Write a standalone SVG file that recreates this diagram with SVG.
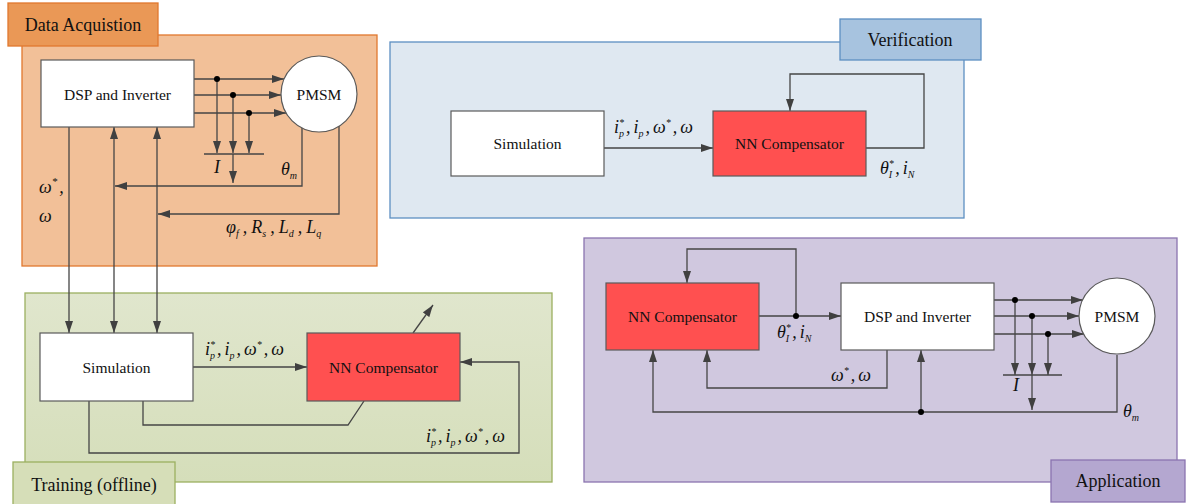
<svg xmlns="http://www.w3.org/2000/svg" width="1187" height="504" viewBox="0 0 1187 504">
<defs>
<marker id="ah" viewBox="0 0 12 8" refX="12" refY="4" markerWidth="12" markerHeight="8" orient="auto-start-reverse" markerUnits="userSpaceOnUse"><path d="M0,0 L12,4 L0,8 z" fill="#404040"/></marker>
<linearGradient id="gTrain" x1="0" y1="0" x2="0" y2="1"><stop offset="0" stop-color="#e0e6cd"/><stop offset="1" stop-color="#d5deba"/></linearGradient>
</defs>
<style>
.node{stroke:#5a5a5a;stroke-width:1.2}
.white{fill:#ffffff}
.red{fill:#ff5050}
.t{font-size:15.5px;fill:#111;text-anchor:middle;dominant-baseline:central}
.tab{font-size:18px;fill:#111;text-anchor:middle;dominant-baseline:central}
.m{font-size:18px;font-style:italic;fill:#111}
.c{fill:none;stroke:#454545;stroke-width:1.3}
.a{marker-end:url(#ah)}
.b{marker-start:url(#ah);marker-end:url(#ah)}
.dot{fill:#000}
</style>

<g id="region-data-acquisition">
<rect x="22" y="35" width="355" height="231" fill="#f2c098" stroke="#e0782e" stroke-width="1.3"/>
<rect x="8" y="3" width="150" height="43" fill="#ea9856" stroke="#e0782e" stroke-width="1.3"/>
<text class="tab" font-family="Liberation Serif, serif" x="83" y="25">Data Acquistion</text>
</g>
<g id="region-verification">
<rect x="390" y="42" width="574" height="176" fill="#dfe8f1" stroke="#5c8fc2" stroke-width="1.3"/>
<rect x="840" y="19" width="141" height="41" fill="#a7c3df" stroke="#5c8fc2" stroke-width="1.3"/>
<text class="tab" font-family="Liberation Serif, serif" x="910" y="40">Verification</text>
</g>
<g id="region-training">
<rect x="25" y="293" width="527" height="189" fill="url(#gTrain)" stroke="#9bb060" stroke-width="1.3"/>
<rect x="13" y="462" width="162" height="45" fill="#d6deb8" stroke="#9bb060" stroke-width="1.3"/>
<text class="tab" font-family="Liberation Serif, serif" x="94" y="485">Training (offline)</text>
</g>
<g id="region-application">
<rect x="584" y="238" width="593" height="244" fill="#d0c8df" stroke="#8a74b0" stroke-width="1.3"/>
<rect x="1051" y="460" width="134" height="42" fill="#b4a7d0" stroke="#8a74b0" stroke-width="1.3"/>
<text class="tab" font-family="Liberation Serif, serif" x="1118" y="481">Application</text>
</g>

<g id="connectors">
<path class="c a" d="M194,79 H284"/>
<path class="c a" d="M194,95 H281"/>
<path class="c a" d="M194,113 H286"/>
<path class="c a" d="M217,79 V153"/>
<path class="c a" d="M233,95 V153"/>
<path class="c a" d="M249,113 V153"/>
<path class="c" d="M204,154 H264"/>
<path class="c a" d="M233,154 V183"/>
<path class="c a" d="M302,128 V186 H115"/>
<path class="c a" d="M339,126 V214 H158"/>
<path class="c a" d="M69,127 V333"/>
<path class="c b" d="M114,127 V333"/>
<path class="c b" d="M157,127 V333"/>
<circle class="dot" cx="217" cy="79" r="3"/>
<circle class="dot" cx="233" cy="95" r="3"/>
<circle class="dot" cx="249" cy="113" r="3"/>
<path class="c a" d="M193,367 H307"/>
<path class="c a" d="M413,333 L433,305"/>
<path class="c" d="M143,401 V425 H348 L364,401"/>
<path class="c a" d="M89,401 V453 H519 V362 H460"/>
<path class="c a" d="M604,148 H713"/>
<path class="c a" d="M866,148 H924 V74 H790 V111"/>
<path class="c a" d="M759,316 H841"/>
<path class="c a" d="M796,316 V249 H687 V283"/>
<circle class="dot" cx="796" cy="316" r="3"/>
<path class="c a" d="M887,350 V388 H707 V350"/>
<path class="c a" d="M1117,355 V412 H653 V350"/>
<path class="c a" d="M921,412 V350"/>
<circle class="dot" cx="921" cy="412" r="3"/>
<path class="c a" d="M994,300 H1083"/>
<path class="c a" d="M994,316 H1079"/>
<path class="c a" d="M994,334 H1084"/>
<path class="c a" d="M1015,300 V375"/>
<path class="c a" d="M1032,316 V375"/>
<path class="c a" d="M1048,334 V375"/>
<path class="c" d="M1003,375 H1062"/>
<path class="c a" d="M1032,375 V410"/>
<circle class="dot" cx="1015" cy="300" r="3"/>
<circle class="dot" cx="1032" cy="316" r="3"/>
<circle class="dot" cx="1048" cy="334" r="3"/>
</g>

<g id="labels" font-family="Liberation Serif, serif">
<text class="m" x="214" y="173">I</text>
<text class="m" x="281" y="175">θ<tspan font-size="10" dy="4">m</tspan></text>
<text class="m" x="39" y="193">ω<tspan font-size="11" dy="-8">*</tspan><tspan dy="8" dx="2">,</tspan></text>
<text class="m" x="39" y="222">ω</text>
<text class="m" x="226" y="233">φ<tspan font-size="10" dy="4">f</tspan><tspan dy="-4" dx="4">,</tspan><tspan dx="4">R</tspan><tspan font-size="10" dy="4">s</tspan><tspan dy="-4" dx="4">,</tspan><tspan dx="4">L</tspan><tspan font-size="10" dy="4">d</tspan><tspan dy="-4" dx="4">,</tspan><tspan dx="4">L</tspan><tspan font-size="10" dy="4">q</tspan></text>

<text class="m" x="205" y="355">i<tspan font-size="10" dy="-7">*</tspan><tspan font-size="10" dx="-5" dy="11">p</tspan><tspan dy="-4" dx="2">,</tspan><tspan dx="3">i</tspan><tspan font-size="10" dy="4">p</tspan><tspan dy="-4" dx="2">,</tspan><tspan dx="3">ω</tspan><tspan font-size="10" dy="-7">*</tspan><tspan dy="7" dx="2">,</tspan><tspan dx="3">ω</tspan></text>
<text class="m" x="426" y="442">i<tspan font-size="10" dy="-7">*</tspan><tspan font-size="10" dx="-5" dy="11">p</tspan><tspan dy="-4" dx="2">,</tspan><tspan dx="3">i</tspan><tspan font-size="10" dy="4">p</tspan><tspan dy="-4" dx="2">,</tspan><tspan dx="3">ω</tspan><tspan font-size="10" dy="-7">*</tspan><tspan dy="7" dx="2">,</tspan><tspan dx="3">ω</tspan></text>
<text class="m" x="614" y="133">i<tspan font-size="10" dy="-7">*</tspan><tspan font-size="10" dx="-5" dy="11">p</tspan><tspan dy="-4" dx="2">,</tspan><tspan dx="3">i</tspan><tspan font-size="10" dy="4">p</tspan><tspan dy="-4" dx="2">,</tspan><tspan dx="3">ω</tspan><tspan font-size="10" dy="-7">*</tspan><tspan dy="7" dx="2">,</tspan><tspan dx="3">ω</tspan></text>

<text class="m" x="880" y="174">θ<tspan font-size="10" dy="-7">*</tspan><tspan font-size="10" dx="-5" dy="11">I</tspan><tspan dy="-4" dx="3">,</tspan><tspan dx="3">i</tspan><tspan font-size="10" dy="4">N</tspan></text>
<text class="m" x="777" y="338">θ<tspan font-size="10" dy="-7">*</tspan><tspan font-size="10" dx="-5" dy="11">I</tspan><tspan dy="-4" dx="3">,</tspan><tspan dx="3">i</tspan><tspan font-size="10" dy="4">N</tspan></text>
<text class="m" x="831" y="381">ω<tspan font-size="10" dy="-7">*</tspan><tspan dy="7" dx="2">,</tspan><tspan dx="3">ω</tspan></text>
<text class="m" x="1013" y="391">I</text>
<text class="m" x="1123" y="417">θ<tspan font-size="10" dy="4">m</tspan></text>
</g>

<g id="node-dsp-da"><rect class="node white" x="41" y="60" width="153" height="67"/><text class="t" font-family="Liberation Serif, serif" x="117.5" y="94">DSP and Inverter</text></g>
<g id="node-pmsm-da"><circle class="node white" cx="319" cy="94" r="38"/><text class="t" font-family="Liberation Serif, serif" x="319" y="94">PMSM</text></g>
<g id="node-sim-train"><rect class="node white" x="40" y="333" width="153" height="68"/><text class="t" font-family="Liberation Serif, serif" x="116.5" y="367">Simulation</text></g>
<g id="node-nn-train"><rect class="node red" x="307" y="333" width="153" height="68"/><text class="t" font-family="Liberation Serif, serif" x="383.5" y="367">NN Compensator</text></g>
<g id="node-sim-ver"><rect class="node white" x="451" y="111" width="153" height="65"/><text class="t" font-family="Liberation Serif, serif" x="527.5" y="143">Simulation</text></g>
<g id="node-nn-ver"><rect class="node red" x="713" y="111" width="153" height="65"/><text class="t" font-family="Liberation Serif, serif" x="789.5" y="143">NN Compensator</text></g>
<g id="node-nn-app"><rect class="node red" x="606" y="283" width="153" height="67"/><text class="t" font-family="Liberation Serif, serif" x="682.5" y="316">NN Compensator</text></g>
<g id="node-dsp-app"><rect class="node white" x="841" y="283" width="153" height="67"/><text class="t" font-family="Liberation Serif, serif" x="917.5" y="316">DSP and Inverter</text></g>
<g id="node-pmsm-app"><circle class="node white" cx="1117" cy="316" r="38"/><text class="t" font-family="Liberation Serif, serif" x="1117" y="316">PMSM</text></g>
</svg>
